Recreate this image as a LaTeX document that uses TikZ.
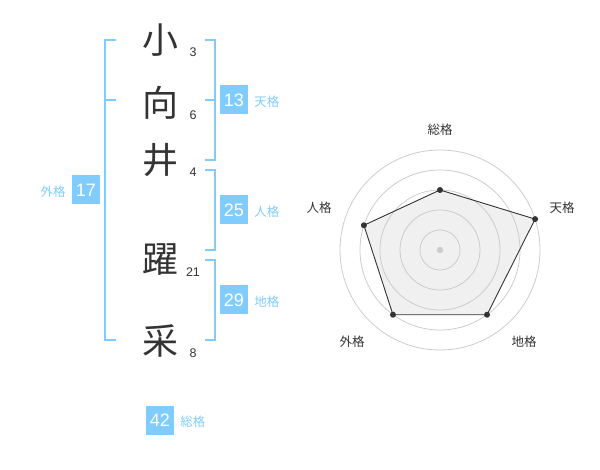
\documentclass[tikz,border=0pt]{standalone}
\usepackage{fontspec}
\setmainfont{Liberation Sans}
\newfontfamily\jpfont{Noto Sans CJK JP}
\usetikzlibrary{calc,positioning}
\definecolor{kakublue}{RGB}{128,204,255}
\definecolor{inkgray}{RGB}{51,51,51}
\definecolor{ringgray}{RGB}{204,204,204}
\definecolor{areagray}{RGB}{240,240,240}

\begin{document}
\begin{tikzpicture}[x=1pt,y=-1pt]
\tikzstyle{kanji}=[font=\jpfont\fontsize{36}{36}\selectfont, text=inkgray, inner sep=0pt]
\tikzstyle{strokes}=[font=\fontsize{12.5}{12.5}\selectfont, text=inkgray, inner sep=0pt]
\tikzstyle{score}=[fill=kakublue, text=white, font=\fontsize{18}{18}\selectfont, minimum width=28pt, minimum height=29pt, inner sep=0pt]
\tikzstyle{kaku}=[font=\jpfont\fontsize{12.5}{12.5}\selectfont, text=kakublue, inner sep=0pt]
\tikzstyle{axis}=[font=\jpfont\fontsize{12.5}{12.5}\selectfont, text=inkgray, inner sep=0pt]
\tikzstyle{bracket}=[draw=kakublue, line width=2pt]
\useasboundingbox (0,0) rectangle (600,470);
% name column
\foreach \ch/\y/\n/\name in {小/40/3/a,向/103/6/b,井/160/4/c,躍/260/21/d,采/341/8/e}
   {
    \node[kanji] (k\name) at (160,\y) {\ch};
    \node[strokes] (s\name) at (193,\y+12) {\n};
   }
% brackets
\draw[bracket] (116,40) -- (105,40) -- (105,340) -- (116,340);
\draw[bracket] (105,100) -- (116,100);
\draw[bracket] (205,40) -- (215,40) -- (215,160) -- (205,160);
\draw[bracket] (205,100) -- (215,100);
\draw[bracket] (205,170) -- (215,170) -- (215,250) -- (205,250);
\draw[bracket] (205,260) -- (215,260) -- (215,340) -- (205,340);
% scores
\foreach \v/\x/\y/\lab/\name in {13/234/100/天格/ten,25/234/210/人格/jin,29/234/300/地格/chi,42/160/420/総格/so}
   {
    \node[score] (b\name) at (\x,\y) {\v};
    \node[kaku, right=6pt of b\name, yshift=-2pt] (l\name) {\lab};
   }
\node[score] (bgai) at (86,190) {17};
\node[kaku] (lgai) at (53,192) {外格};
% radar chart
\begin{scope}[shift={(440,250)}, y=1pt]
\foreach \a/\r/\name in {90/60/so,18/100/ten,-54/80/chi,-126/80/gai,162/80/jin}
    \coordinate (p\name) at (\a:\r);
\fill[areagray] (pso) -- (pten) -- (pchi) -- (pgai) -- (pjin) -- cycle;
\foreach \r in {20,40,...,100}
    \draw[ringgray, line width=0.8pt] (0,0) circle[radius=\r pt];
\draw[inkgray, line width=0.9pt] (pso) -- (pten) -- (pchi) -- (pgai) -- (pjin) -- cycle;
\foreach \name in {so,ten,chi,gai,jin}
    \fill[inkgray] (p\name) circle[radius=3pt];
\fill[ringgray] (0,0) circle[radius=3.2pt];
\end{scope}
\foreach \lab/\x/\y/\name in {総格/440/130/so,天格/562/208/ten,地格/524/342/chi,外格/352/342/gai,人格/319/208/jin}
    \node[axis] (a\name) at (\x,\y) {\lab};
\end{tikzpicture}
\end{document}
